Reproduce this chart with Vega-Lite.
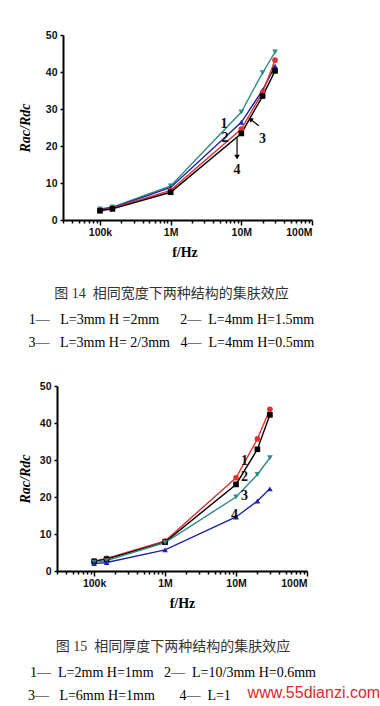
{
  "$schema": "https://vega.github.io/schema/vega-lite/v6.json",
  "background": "white",
  "padding": {"left": 18, "top": 30, "right": 0, "bottom": 0},
  "spacing": 31,
  "resolve": {"scale": {"color": "independent", "shape": "independent"}},
  "config": {
    "view": {"stroke": null},
    "axis": {
      "domainColor": "black", "domainWidth": 2, "tickColor": "black", "tickWidth": 1.5,
      "labelFont": "Liberation Sans", "labelFontWeight": "bold", "labelFontSize": 10.5, "labelColor": "#111",
      "titleFont": "Liberation Serif", "titleFontWeight": "bold", "titleFontSize": 14, "titleColor": "black",
      "grid": false
    },
    "title": {"font": "Liberation Serif, Noto Sans CJK SC", "fontSize": 14, "fontWeight": "normal", "color": "#333",
      "subtitleFont": "Liberation Serif, DejaVu Sans", "subtitleFontSize": 14, "subtitleColor": "black", "subtitleLineHeight": 23, "subtitlePadding": 12}
  },
  "datasets": {
    "fig14": [
      {"f": 100000, "s": "1", "v": 3.0}, {"f": 150000, "s": "1", "v": 3.5}, {"f": 1000000, "s": "1", "v": 9.2}, {"f": 10000000, "s": "1", "v": 29.2}, {"f": 20000000, "s": "1", "v": 39.8}, {"f": 30000000, "s": "1", "v": 45.4},
      {"f": 100000, "s": "2", "v": 2.8}, {"f": 150000, "s": "2", "v": 3.3}, {"f": 1000000, "s": "2", "v": 8.8}, {"f": 10000000, "s": "2", "v": 26.4}, {"f": 20000000, "s": "2", "v": 35.1}, {"f": 30000000, "s": "2", "v": 41.6},
      {"f": 100000, "s": "3", "v": 2.6}, {"f": 150000, "s": "3", "v": 3.2}, {"f": 1000000, "s": "3", "v": 8.0}, {"f": 10000000, "s": "3", "v": 24.6}, {"f": 20000000, "s": "3", "v": 34.5}, {"f": 30000000, "s": "3", "v": 43.2},
      {"f": 100000, "s": "4", "v": 2.5}, {"f": 150000, "s": "4", "v": 3.0}, {"f": 1000000, "s": "4", "v": 7.5}, {"f": 10000000, "s": "4", "v": 23.4}, {"f": 20000000, "s": "4", "v": 33.5}, {"f": 30000000, "s": "4", "v": 40.3}
    ],
    "fig15": [
      {"f": 100000, "s": "1", "v": 2.7}, {"f": 150000, "s": "1", "v": 3.4}, {"f": 1000000, "s": "1", "v": 8.1}, {"f": 10000000, "s": "1", "v": 25.2}, {"f": 20000000, "s": "1", "v": 35.7}, {"f": 30000000, "s": "1", "v": 43.7},
      {"f": 100000, "s": "2", "v": 2.6}, {"f": 150000, "s": "2", "v": 3.2}, {"f": 1000000, "s": "2", "v": 7.8}, {"f": 10000000, "s": "2", "v": 23.4}, {"f": 20000000, "s": "2", "v": 32.9}, {"f": 30000000, "s": "2", "v": 42.2},
      {"f": 100000, "s": "3", "v": 2.4}, {"f": 150000, "s": "3", "v": 2.8}, {"f": 1000000, "s": "3", "v": 7.7}, {"f": 10000000, "s": "3", "v": 20.0}, {"f": 20000000, "s": "3", "v": 26.1}, {"f": 30000000, "s": "3", "v": 30.6},
      {"f": 100000, "s": "4", "v": 2.0}, {"f": 150000, "s": "4", "v": 2.3}, {"f": 1000000, "s": "4", "v": 5.7}, {"f": 10000000, "s": "4", "v": 14.6}, {"f": 20000000, "s": "4", "v": 18.9}, {"f": 30000000, "s": "4", "v": 22.2}
    ],
    "lab14": [
      {"f": 5700000, "v": 26.0, "t": "1"}, {"f": 5900000, "v": 22.2, "t": "2"}, {"f": 20000000, "v": 22.0, "t": "3"}, {"f": 8700000, "v": 13.6, "t": "4"}
    ],
    "arr14": [
      {"f1": 17700000, "v1": 25.5, "f2": 13700000, "v2": 27.1, "a": "3"},
      {"f1": 8700000, "v1": 22.3, "f2": 8700000, "v2": 17.2, "a": "4"}
    ],
    "lab15": [
      {"f": 13200000, "v": 29.7, "t": "1"}, {"f": 13200000, "v": 25.5, "t": "2"}, {"f": 13200000, "v": 20.4, "t": "3"}, {"f": 9500000, "v": 15.1, "t": "4"}
    ]
  },
  "title": {"text": "www.55dianzi.com", "orient": "bottom", "anchor": "end", "color": "#e0282a", "font": "Liberation Sans", "fontSize": 16, "fontWeight": "normal", "offset": -18, "dx": 62},
  "vconcat": [
    {
      "width": 255, "height": 185,
      "title": {"text": "图 14\u00a0\u00a0相同宽度下两种结构的集肤效应", "orient": "bottom", "anchor": "middle", "dx": -13, "offset": 27,
        "subtitle": ["1—\u00a0\u00a0\u00a0L=3mm H\u00a0=2mm\u00a0\u00a0\u00a0\u00a0\u00a0\u00a02—\u00a0\u00a0L=4mm H=1.5mm", "3—\u00a0\u00a0\u00a0L=3mm H=\u00a02/3mm\u00a0\u00a0\u00a04—\u00a0\u00a0L=4mm H=0.5mm"]},
      "encoding": {
        "x": {"field": "f", "type": "quantitative",
          "scale": {"type": "log", "domain": [24670, 100000000], "nice": false},
          "axis": {"title": "f/Hz", "titlePadding": 8, "labelPadding": 2, "domainDash": [0, 6, 1000],
            "values": [30000, 40000, 50000, 60000, 70000, 80000, 90000, 100000, 200000, 300000, 400000, 500000, 600000, 700000, 800000, 900000, 1000000, 2000000, 3000000, 4000000, 5000000, 6000000, 7000000, 8000000, 9000000, 10000000, 20000000, 30000000, 40000000, 50000000, 60000000, 70000000, 80000000, 90000000, 100000000],
            "labelExpr": "datum.value==100000?'100k':datum.value==1000000?'1M':datum.value==10000000?'10M':datum.value==100000000?'100M':''",
            "tickSize": {"condition": {"test": "indexof([100000,1000000,10000000,100000000], datum.value) >= 0", "value": 5}, "value": 3}}},
        "y": {"field": "v", "type": "quantitative",
          "scale": {"domain": [0, 50], "nice": false},
          "axis": {"title": "Rac/Rdc", "titleFontStyle": "italic", "titlePadding": 13, "offset": -6, "values": [0, 10, 20, 30, 40, 50], "tickSize": 3, "labelPadding": 3}}
      },
      "layer": [
        {"data": {"name": "fig14"}, "mark": {"type": "line", "strokeWidth": 1.4},
          "encoding": {"color": {"field": "s", "type": "nominal", "legend": null, "scale": {"domain": ["1", "2", "3", "4"], "range": ["#2f8a85", "#1e22a8", "#e2302f", "#000000"]}}}},
        {"data": {"name": "fig14"}, "mark": {"type": "point", "filled": true, "size": 32, "opacity": 1},
          "encoding": {"color": {"field": "s", "type": "nominal", "legend": null, "scale": {"domain": ["1", "2", "3", "4"], "range": ["#2f8a85", "#1e22a8", "#e2302f", "#000000"]}},
            "shape": {"field": "s", "type": "nominal", "legend": null, "scale": {"domain": ["1", "2", "3", "4"], "range": ["triangle-down", "triangle-up", "circle", "square"]}}}},
        {"data": {"name": "lab14"}, "mark": {"type": "text", "font": "Liberation Serif", "fontSize": 14, "fontWeight": "bold", "color": "#111"},
          "encoding": {"text": {"field": "t"}}},
        {"data": {"name": "arr14"}, "mark": {"type": "rule", "color": "black", "strokeWidth": 1.2},
          "encoding": {"x": {"field": "f1", "type": "quantitative"}, "y": {"field": "v1", "type": "quantitative"}, "x2": {"field": "f2"}, "y2": {"field": "v2"}}},
        {"data": {"name": "arr14"}, "transform": [{"filter": "datum.a=='3'"}], "mark": {"type": "point", "shape": "triangle", "filled": true, "color": "black", "size": 30, "angle": -53, "opacity": 1},
          "encoding": {"x": {"field": "f2", "type": "quantitative"}, "y": {"field": "v2", "type": "quantitative"}}},
        {"data": {"name": "arr14"}, "transform": [{"filter": "datum.a=='4'"}], "mark": {"type": "point", "shape": "triangle", "filled": true, "color": "black", "size": 30, "angle": 180, "opacity": 1},
          "encoding": {"x": {"field": "f2", "type": "quantitative"}, "y": {"field": "v2", "type": "quantitative"}}}
      ]
    },
    {
      "width": 250, "height": 185,
      "title": {"text": "图 15\u00a0\u00a0相同厚度下两种结构的集肤效应", "orient": "bottom", "anchor": "middle", "dx": -9, "offset": 29,
        "subtitle": ["1—\u00a0\u00a0L=2mm H=1mm\u00a0\u00a0\u00a02—\u00a0\u00a0L=10/3mm H=0.6mm", "3—\u00a0\u00a0\u00a0L=6mm H=1mm\u00a0\u00a0\u00a0\u00a0\u00a0\u00a0\u00a04—\u00a0\u00a0L=1\u00a0\u00a0\u00a0\u00a0\u00a0\u00a0\u00a0\u00a0\u00a0\u00a0\u00a0\u00a0\u00a0\u00a0\u00a0\u00a0\u00a0\u00a0\u00a0\u00a0\u00a0\u00a0\u2800"]},
      "encoding": {
        "x": {"field": "f", "type": "quantitative",
          "scale": {"type": "log", "domain": [30000, 100000000], "nice": false},
          "axis": {"title": "f/Hz", "titlePadding": 8, "labelPadding": 2,
            "values": [30000, 40000, 50000, 60000, 70000, 80000, 90000, 100000, 200000, 300000, 400000, 500000, 600000, 700000, 800000, 900000, 1000000, 2000000, 3000000, 4000000, 5000000, 6000000, 7000000, 8000000, 9000000, 10000000, 20000000, 30000000, 40000000, 50000000, 60000000, 70000000, 80000000, 90000000, 100000000],
            "labelExpr": "datum.value==100000?'100k':datum.value==1000000?'1M':datum.value==10000000?'10M':datum.value==100000000?'100M':''",
            "tickSize": {"condition": {"test": "indexof([100000,1000000,10000000,100000000], datum.value) >= 0", "value": 5}, "value": 3}}},
        "y": {"field": "v", "type": "quantitative",
          "scale": {"domain": [0, 50], "nice": false},
          "axis": {"title": "Rac/Rdc", "titleFontStyle": "italic", "titlePadding": 7, "values": [0, 10, 20, 30, 40, 50], "tickSize": 3, "labelPadding": 3}}
      },
      "layer": [
        {"data": {"name": "fig15"}, "mark": {"type": "line", "strokeWidth": 1.4},
          "encoding": {"color": {"field": "s", "type": "nominal", "legend": null, "scale": {"domain": ["1", "2", "3", "4"], "range": ["#e2302f", "#000000", "#2f8a85", "#1e22a8"]}}}},
        {"data": {"name": "fig15"}, "mark": {"type": "point", "filled": true, "size": 32, "opacity": 1},
          "encoding": {"color": {"field": "s", "type": "nominal", "legend": null, "scale": {"domain": ["1", "2", "3", "4"], "range": ["#e2302f", "#000000", "#2f8a85", "#1e22a8"]}},
            "shape": {"field": "s", "type": "nominal", "legend": null, "scale": {"domain": ["1", "2", "3", "4"], "range": ["circle", "square", "triangle-down", "triangle-up"]}}}},
        {"data": {"name": "lab15"}, "mark": {"type": "text", "font": "Liberation Serif", "fontSize": 14, "fontWeight": "bold", "color": "#111"},
          "encoding": {"text": {"field": "t"}}}
      ]
    }
  ]
}
